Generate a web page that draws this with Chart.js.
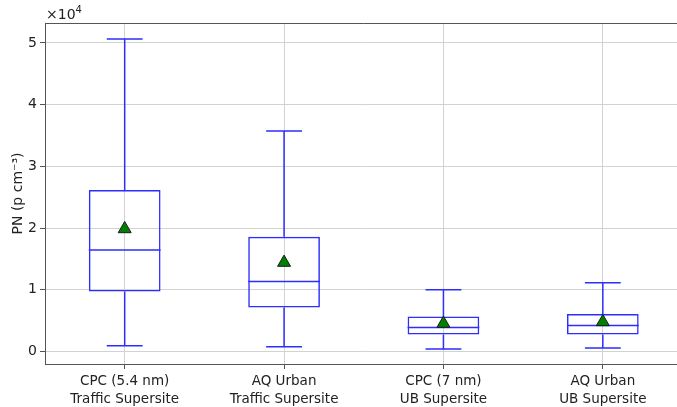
<!DOCTYPE html>
<html>
<head>
<meta charset="utf-8">
<script src="https://cdn.jsdelivr.net/npm/chart.js@4.4.1/dist/chart.umd.min.js"></script>
<style>
    html, body { margin: 0; padding: 0; background: #fff; overflow: hidden; }
    #wrap { position: relative; width: 691px; height: 407px; }
</style>
</head>
<body>
<div id="wrap"><canvas id="pnChart"></canvas></div>
<script>
// Box plot of particle number per site (values in p cm^-3)
const categories = [
    ['CPC (5.4 nm)', 'Traffic Supersite'],
    ['AQ Urban', 'Traffic Supersite'],
    ['CPC (7 nm)', 'UB Supersite'],
    ['AQ Urban', 'UB Supersite']
];
const whiskerLow = [920, 760, 390, 550];
const q1 = [9720, 7130, 2760, 2760];
const median = [16430, 11350, 3890, 4210];
const q3 = [26160, 18590, 5670, 6060];
const whiskerHigh = [50630, 35720, 10000, 11130];
const means = [19850, 14400, 4520, 4780];
const yTicks = [0, 10000, 20000, 30000, 40000, 50000];

const boxColor = 'rgb(45, 45, 255)';
const gridColor = '#d2d2d2';
const axisColor = '#555555';
const textColor = '#222222';
const fontFamily = "'DejaVu Sans', sans-serif";

// whiskers, caps and medians drawn under the mean markers
const boxLines = {
    id: 'boxLines',
    beforeDatasetsDraw(chart) {
        const ctx = chart.ctx;
        const x = chart.scales.x;
        const y = chart.scales.y;
        const step = x.width / categories.length;
        const boxHalf = step * 0.45 / 2;
        const capHalf = step * 0.225 / 2;
        ctx.save();
        ctx.strokeStyle = boxColor;
        ctx.lineWidth = 1.5;
        for (let i = 0; i < categories.length; i++) {
            const cx = x.getPixelForValue(i);
            ctx.beginPath();
            ctx.moveTo(cx, y.getPixelForValue(q3[i]));
            ctx.lineTo(cx, y.getPixelForValue(whiskerHigh[i]));
            ctx.moveTo(cx, y.getPixelForValue(q1[i]));
            ctx.lineTo(cx, y.getPixelForValue(whiskerLow[i]));
            ctx.moveTo(cx - capHalf, y.getPixelForValue(whiskerHigh[i]));
            ctx.lineTo(cx + capHalf, y.getPixelForValue(whiskerHigh[i]));
            ctx.moveTo(cx - capHalf, y.getPixelForValue(whiskerLow[i]));
            ctx.lineTo(cx + capHalf, y.getPixelForValue(whiskerLow[i]));
            ctx.moveTo(cx - boxHalf, y.getPixelForValue(median[i]));
            ctx.lineTo(cx + boxHalf, y.getPixelForValue(median[i]));
            ctx.stroke();
        }
        ctx.restore();
    },
    afterDraw(chart) {
        const ctx = chart.ctx;
        const area = chart.chartArea;
        ctx.save();
        // top spine
        ctx.strokeStyle = axisColor;
        ctx.lineWidth = 1;
        ctx.beginPath();
        ctx.moveTo(area.left, area.top + 0.5);
        ctx.lineTo(area.right, area.top + 0.5);
        ctx.stroke();
        // offset text
        ctx.fillStyle = textColor;
        ctx.font = '14px ' + fontFamily;
        ctx.textBaseline = 'alphabetic';
        ctx.fillText('\u00d710', area.left + 1, area.top - 4);
        const w = ctx.measureText('\u00d710').width;
        ctx.font = '10px ' + fontFamily;
        ctx.fillText('4', area.left + 1 + w, area.top - 10);
        ctx.restore();
    }
};

new Chart(document.getElementById('pnChart'), {
    type: 'bar',
    data: {
        labels: categories,
        datasets: [{
            label: 'Mean',
            type: 'line',
            data: means,
            showLine: false,
            pointStyle: 'triangle',
            pointRadius: 7.5,
            pointHoverRadius: 7.5,
            pointBackgroundColor: '#008000',
            pointBorderColor: '#1a1a1a',
            pointBorderWidth: 1,
            order: 0
        }, {
            label: 'IQR',
            data: q1.map((v, i) => [v, q3[i]]),
            backgroundColor: 'rgba(0,0,0,0)',
            borderColor: boxColor,
            borderWidth: 1.5,
            borderSkipped: false,
            barPercentage: 0.45,
            categoryPercentage: 1,
            order: 1
        }]
    },
    options: {
        responsive: true,
        maintainAspectRatio: false,
        animation: false,
        layout: { padding: { top: 23, left: 0, right: 0, bottom: 0 } },
        plugins: {
            legend: { display: false },
            tooltip: { enabled: false }
        },
        scales: {
            x: {
                grid: {
                    color: gridColor,
                    lineWidth: 1,
                    offset: false,
                    tickColor: axisColor,
                    tickLength: 5
                },
                border: { color: axisColor, width: 1 },
                ticks: {
                    color: textColor,
                    font: { family: fontFamily, size: 13.5, lineHeight: 1.35 },
                    maxRotation: 0,
                    padding: 3
                },
                afterFit: function(scale) { scale.height = 43; }
            },
            y: {
                min: -2040,
                max: 53230,
                afterBuildTicks: function(scale) {
                    scale.ticks = yTicks.map(v => ({ value: v }));
                },
                grid: {
                    color: gridColor,
                    lineWidth: 1,
                    tickColor: axisColor,
                    tickLength: 5
                },
                border: { color: axisColor, width: 1 },
                ticks: {
                    color: textColor,
                    font: { family: fontFamily, size: 14 },
                    padding: 3,
                    callback: function(value) {
                        return value / 10000;
                    }
                },
                title: {
                    display: true,
                    text: 'PN (p cm\u207b\u00b3)',
                    color: textColor,
                    font: { family: fontFamily, size: 14 },
                    padding: { top: 10, bottom: 0 }
                },
                afterFit: function(scale) { scale.width = 45; }
            }
        }
    },
    plugins: [boxLines]
});
</script>
</body>
</html>
